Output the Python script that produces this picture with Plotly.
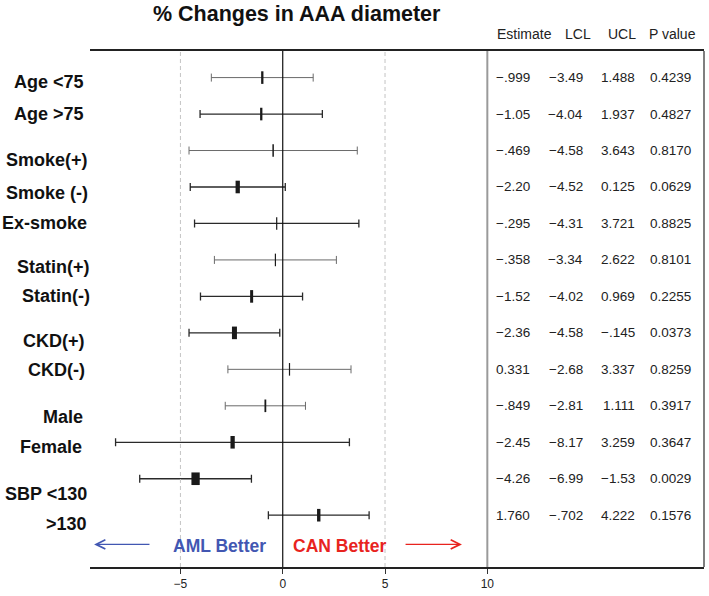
import plotly.graph_objects as go

# ---------------- data ----------------
groups = ["Age <75", "Age >75", "Smoke(+)", "Smoke (-)", "Ex-smoke", "Statin(+)", "Statin(-)",
          "CKD(+)", "CKD(-)", "Male", "Female", "SBP <130", ">130"]
estimate = [-0.999, -1.05, -0.469, -2.20, -0.295, -0.358, -1.52, -2.36, 0.331, -0.849, -2.45, -4.26, 1.760]
lcl = [-3.49, -4.04, -4.58, -4.52, -4.31, -3.34, -4.02, -4.58, -2.68, -2.81, -8.17, -6.99, -0.702]
ucl = [1.488, 1.937, 3.643, 0.125, 3.721, 2.622, 0.969, -0.145, 3.337, 1.111, 3.259, -1.53, 4.222]
p_value = [0.4239, 0.4827, 0.8170, 0.0629, 0.8825, 0.8101, 0.2255, 0.0373, 0.8259, 0.3917, 0.3647, 0.0029, 0.1576]
headers = ["Estimate", "LCL", "UCL", "P value"]
tick_vals = [-5, 0, 5, 10]
tick_text = ["\u22125", "0", "5", "10"]
title_text = "% Changes in AAA diameter"

# ---------------- styles ----------------
box_w = [2.3, 2.3, 1.5, 4.3, 1.2, 1.2, 3.0, 5.0, 1.2, 1.8, 4.3, 8.3, 3.4]   # marker box widths (px)
light_rows = {0, 2, 5, 8, 9}
label_dy = [0.11, 0.0, 0.25, 0.16, 0.0, 0.19, 0.0, 0.22, 0.03, 0.32, 0.12, 0.42, 0.24]
label_edge = [86, 86, 90, 90, 89, 92, 92, 87, 87, 85, 84, 89, 89]
FONT = "Liberation Sans, Arial, sans-serif"
BLUE = "#4257b2"
RED = "#e8231e"

def fmt(v):
    if v < 0:
        s = f"{abs(v):.3f}" if abs(v) < 1 else f"{abs(v):.2f}"
        if s.startswith("0"):
            s = s[1:]
        return "\u2212" + s
    return f"{v:.3f}"

rows = list(range(len(groups)))
fig = go.Figure()

for light in (True, False):
    idx = [i for i in rows if (i in light_rows) == light]
    fig.add_trace(go.Scatter(
        x=[estimate[i] for i in idx], y=[i for i in idx], mode="markers",
        marker=dict(symbol="line-ns", size=9, color="#1a1a1a",
                    line=dict(color="#1a1a1a", width=[box_w[i] for i in idx])),
        error_x=dict(type="data", symmetric=False,
                     array=[ucl[i] - estimate[i] for i in idx],
                     arrayminus=[estimate[i] - lcl[i] for i in idx],
                     color="#6a6a6a" if light else "#2a2a2a",
                     thickness=1.0 if light else 1.3, width=4),
        showlegend=False, hoverinfo="skip", cliponaxis=False))

shapes = [
    dict(type="line", xref="x", yref="paper", x0=0, x1=0, y0=0, y1=1, line=dict(color="#111", width=1.2)),
    dict(type="line", xref="x", yref="paper", x0=-5, x1=-5, y0=0, y1=1, line=dict(color="#c4c4c4", width=1, dash="4px,3px")),
    dict(type="line", xref="x", yref="paper", x0=5, x1=5, y0=0, y1=1, line=dict(color="#c4c4c4", width=1, dash="4px,3px")),
    dict(type="line", xref="x", yref="paper", x0=10, x1=10, y0=0, y1=1, line=dict(color="#9a9a9a", width=2)),
    dict(type="line", xref="paper", yref="paper", x0=1, x1=1, y0=0, y1=1, line=dict(color="#555", width=1.5)),
]

ann = []
for i, g in enumerate(groups):
    ann.append(dict(text=g, xref="paper", yref="y", x=0, y=i + label_dy[i], xanchor="right", yanchor="middle",
                    xshift=label_edge[i] - 90, showarrow=False,
                    font=dict(family=FONT, size=18, color="#111", weight="bold")))

col_x = [12.19, 14.78, 17.32, 20.05]
for i in rows:
    vals = [fmt(estimate[i]), fmt(lcl[i]), fmt(ucl[i]), f"{p_value[i]:.4f}"]
    for cx, v in zip(col_x, vals):
        ann.append(dict(text=v, xref="x", yref="y", x=cx, y=i, xanchor="right", yanchor="middle",
                        showarrow=False, font=dict(family=FONT, size=13.5, color="#222")))

head_x = [11.82, 14.43, 16.58, 19.07]
for hx, h in zip(head_x, headers):
    ann.append(dict(text=h, xref="x", yref="paper", x=hx, y=1.033, xanchor="center", yanchor="middle",
                    showarrow=False, font=dict(family=FONT, size=14, color="#222")))

arrow_y = 12.80
ann += [
    dict(text="AML Better", xref="x", yref="y", x=-3.09, y=arrow_y + 0.05, showarrow=False,
         font=dict(family=FONT, size=17.5, color=BLUE, weight="bold")),
    dict(text="CAN Better", xref="x", yref="y", x=2.78, y=arrow_y + 0.05, showarrow=False,
         font=dict(family=FONT, size=17.5, color=RED, weight="bold")),
    dict(text="", xref="x", yref="y", x=-9.22, y=arrow_y, ax=-6.44, ay=arrow_y, axref="x", ayref="y",
         showarrow=True, arrowhead=5, arrowsize=1.4, arrowwidth=1.3, arrowcolor=BLUE),
    dict(text="", xref="x", yref="y", x=8.76, y=arrow_y, ax=5.93, ay=arrow_y, axref="x", ayref="y",
         showarrow=True, arrowhead=5, arrowsize=1.4, arrowwidth=1.3, arrowcolor=RED),
]

fig.update_layout(
    width=709, height=596,
    margin=dict(l=90, r=5, t=51, b=27),
    paper_bgcolor="white", plot_bgcolor="white",
    title=dict(text=title_text, x=296.7 / 709, y=1 - 13 / 596, xanchor="center", yanchor="middle",
               font=dict(family=FONT, size=21.5, color="#111", weight="bold")),
    xaxis=dict(range=[-9.42, 20.59], showgrid=False, zeroline=False,
               showline=True, mirror=True, linecolor="#222", linewidth=1.5,
               tickmode="array", tickvals=tick_vals, ticktext=tick_text,
               ticks="outside", ticklen=5, tickcolor="#333", tickwidth=1,
               tickfont=dict(family=FONT, size=12, color="#222")),
    yaxis=dict(range=[13.42, -0.729], showgrid=False, zeroline=False, showline=False,
               showticklabels=False, ticks=""),
    shapes=shapes, annotations=ann,
)

fig.write_html("out.html", config={"displayModeBar": False},
               post_script="document.body.style.margin='0';document.body.style.overflow='hidden';")
